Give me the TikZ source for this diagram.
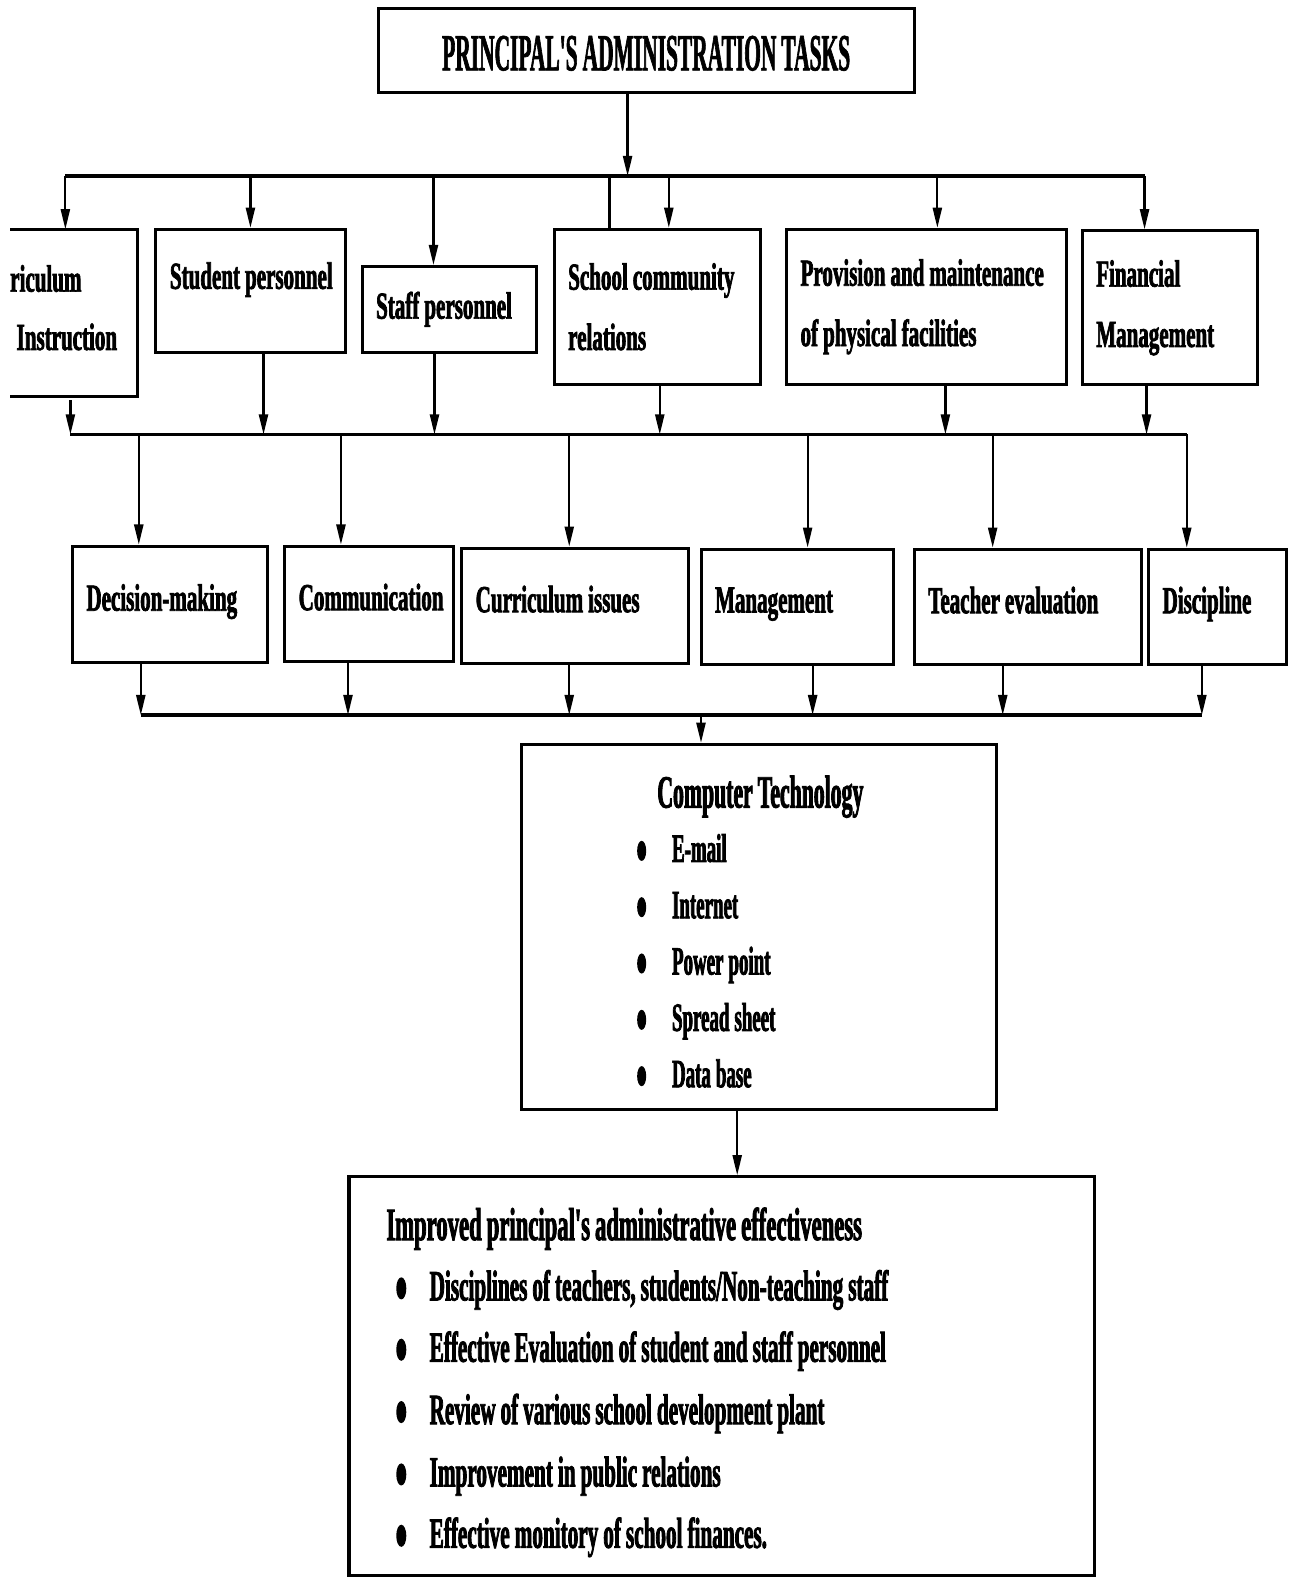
\documentclass[tikz,border=0pt]{standalone}
\usepackage{fontspec}
\newfontfamily\fr[FakeStretch=0.55, FakeBold=1.8]{Liberation Serif Bold}
\newfontfamily\fl[FakeStretch=0.47, FakeBold=1.8]{Liberation Serif Bold}
\newfontfamily\fb[FakeStretch=0.49, FakeBold=1.8]{Liberation Serif Bold}
\newfontfamily\ft[FakeStretch=0.41, FakeBold=1.2]{Liberation Serif Bold}
\usetikzlibrary{arrows.meta}
\newcommand{\sk}{\spaceskip=5pt plus 1pt minus 1pt\relax\xspaceskip=5pt\relax}
\tikzset{
  box/.style={draw, line width=3pt, inner xsep=14pt, inner ysep=0pt, align=left,
    font=\fr\fontsize{38}{60}\selectfont, execute at begin node=\sk},
  lbl/.style={inner sep=0pt, align=left, font=\fr\fontsize{38}{60}\selectfont, execute at begin node=\sk},
  ctl/.style={inner sep=0pt, anchor=base west, font=\fl\fontsize{40}{56}\selectfont, execute at begin node=\sk},
  rsl/.style={inner sep=0pt, anchor=base west, font=\fb\fontsize{43}{56}\selectfont, execute at begin node=\sk},
  bus/.style={line width=3.5pt},
  conn/.style={line width=2.2pt},
  arr/.style={line width=2.2pt, -{Triangle[length=20pt,width=9pt]}},
}
\begin{document}
\begin{tikzpicture}[x=1pt,y=-1pt]
\useasboundingbox[fill=white] (0,0) rectangle (1281,1568);

% top
\node[box, align=center, text width=505pt, minimum height=84pt, text height=44pt, text depth=4pt,
  font=\ft\fontsize{52}{56}\selectfont] (top) at (642.5,50) {\mbox{PRINCIPAL'S ADMINISTRATION TASKS}};

% row 1
\draw[line width=3pt] (10,228) -- (137,228) -- (137,394) -- (10,394);
\node[lbl, anchor=west] (curr) at (10,306) {\mbox{riculum}\\[-2pt]\mbox{\,Instruction}};
\node[box, text width=161pt, minimum height=122pt, text depth=30pt] (stud) at (249.5,289) {\mbox{Student personnel}};
\node[box, text width=145pt, minimum height=85pt] (staff) at (446.5,307.5) {\mbox{Staff personnel}};
\node[box, text width=177pt, minimum height=154pt] (scr) at (653.5,305) {\mbox{School community}\\\mbox{relations}};
\node[box, text width=250pt, minimum height=154pt] (prov) at (921,305) {\mbox{Provision and maintenance}\\\mbox{of physical facilities}};
\node[box, text width=146pt, minimum height=153pt] (fin) at (1163,306) {\mbox{Financial}\\\mbox{Management}};

% row 2
\node[box, text width=166pt, minimum height=116pt, text depth=14pt] (dec) at (169,601) {\mbox{Decision-making}};
\node[box, text width=140pt, minimum height=115pt, text depth=14pt] (com) at (367,600.5) {\mbox{Communication}};
\node[box, text width=198pt, minimum height=115pt, text depth=14pt] (cur) at (572,602.5) {\mbox{Curriculum issues}};
\node[box, text width=163pt, minimum height=115pt, text depth=14pt] (man) at (792.5,603.5) {\mbox{Management}};
\node[box, text width=198pt, minimum height=115pt, text depth=14pt] (tev) at (1022,603.5) {\mbox{Teacher evaluation}};
\node[box, text width=109pt, minimum height=115pt, text depth=14pt] (dis) at (1210.5,603.5) {\mbox{Discipline}};

% computer technology
\node[box, minimum width=472pt, minimum height=363pt] (ct) at (755,921.5) {};
\node[lbl, anchor=base, font=\fl\fontsize{46}{50}\selectfont] (cttitle) at (756,803) {Computer Technology};
\node[ctl] (ct1) at (668,857) {E-mail};
\node[ctl] (ct2) at (668,913) {Internet};
\node[ctl] (ct3) at (668,969) {Power point};
\node[ctl] (ct4) at (668,1025) {Spread sheet};
\node[ctl] (ct5) at (668,1081) {Data base};
\foreach \n in {ct1,ct2,ct3,ct4,ct5}
  \fill ([xshift=-30pt,yshift=11pt]\n.base west) ellipse (4.5pt and 10pt);

% bottom
\node[box, minimum width=741pt, minimum height=396pt] (res) at (717.5,1368) {};
\node[lbl, anchor=base west, font=\fb\fontsize{46}{50}\selectfont] (restitle) at (384,1233)
  {Improved principal's administrative effectiveness};
\node[rsl] (r1) at (427,1293) {Disciplines of teachers, students/Non-teaching staff};
\node[rsl] (r2) at (427,1354) {Effective Evaluation of student and staff personnel};
\node[rsl] (r3) at (427,1416) {Review of various school development plant};
\node[rsl] (r4) at (427,1478) {Improvement in public relations};
\node[rsl] (r5) at (427,1539) {Effective monitory of school finances.};
\foreach \n in {r1,r2,r3,r4,r5}
  \fill ([xshift=-28pt,yshift=12pt]\n.base west) ellipse (5pt and 11pt);

% bus 1
\coordinate (b1L) at (65,175);
\coordinate (b1R) at (1138,175);
\coordinate (t1) at (624,175);
\coordinate (s2) at (249,175);
\coordinate (s3) at (431,175);
\coordinate (s4a) at (606,175);
\coordinate (s4b) at (665,175);
\coordinate (s5) at (932,175);
\draw[bus] (b1L) -- (b1R);
\draw[arr] (t1 |- top.south) -- (t1);
\draw[arr] (b1L) -- (65,228);
\draw[arr] (s2) -- (s2 |- stud.north);
\draw[arr] (s3) -- (s3 |- staff.north);
\draw[conn] (s4a) -- (s4a |- scr.north);
\draw[arr] (s4b) -- (s4b |- scr.north);
\draw[arr] (s5) -- (s5 |- prov.north);
\draw[arr] (b1R) -- (b1R |- fin.north);

% bus 2
\coordinate (c1) at (70,432);
\coordinate (c2) at (262,432);
\coordinate (c3) at (432,432);
\coordinate (c4) at (656,432);
\coordinate (c5) at (940,432);
\coordinate (c6) at (1140,432);
\coordinate (c7) at (1180,432);
\coordinate (d1) at (138,432);
\coordinate (d2) at (339,432);
\coordinate (d3) at (566,432);
\coordinate (d4) at (803,432);
\coordinate (d5) at (987,432);
\draw[bus] (c1) -- (c7);
\draw[arr] (70,398) -- (c1);
\draw[arr] (c2 |- stud.south) -- (c2);
\draw[arr] (c3 |- staff.south) -- (c3);
\draw[arr] (c4 |- scr.south) -- (c4);
\draw[arr] (c5 |- prov.south) -- (c5);
\draw[arr] (c6 |- fin.south) -- (c6);
\draw[arr] (d1) -- (d1 |- dec.north);
\draw[arr] (d2) -- (d2 |- com.north);
\draw[arr] (d3) -- (d3 |- cur.north);
\draw[arr] (d4) -- (d4 |- man.north);
\draw[arr] (d5) -- (d5 |- tev.north);
\draw[arr] (c7) -- (c7 |- dis.north);

% bus 3
\coordinate (e1) at (140,711);
\coordinate (e2) at (346,711);
\coordinate (e3) at (566,711);
\coordinate (e4) at (808,711);
\coordinate (e5) at (997,711);
\coordinate (e6) at (1195,711);
\coordinate (f1) at (697,711);
\draw[bus] (e1) -- (e6);
\draw[arr] (e1 |- dec.south) -- (e1);
\draw[arr] (e2 |- com.south) -- (e2);
\draw[arr] (e3 |- cur.south) -- (e3);
\draw[arr] (e4 |- man.south) -- (e4);
\draw[arr] (e5 |- tev.south) -- (e5);
\draw[arr] (e6 |- dis.south) -- (e6);
\draw[arr] (f1) -- (f1 |- ct.north);

% to result
\coordinate (g1) at (733,0);
\draw[arr] (g1 |- ct.south) -- (g1 |- res.north);
\end{tikzpicture}
\end{document}
